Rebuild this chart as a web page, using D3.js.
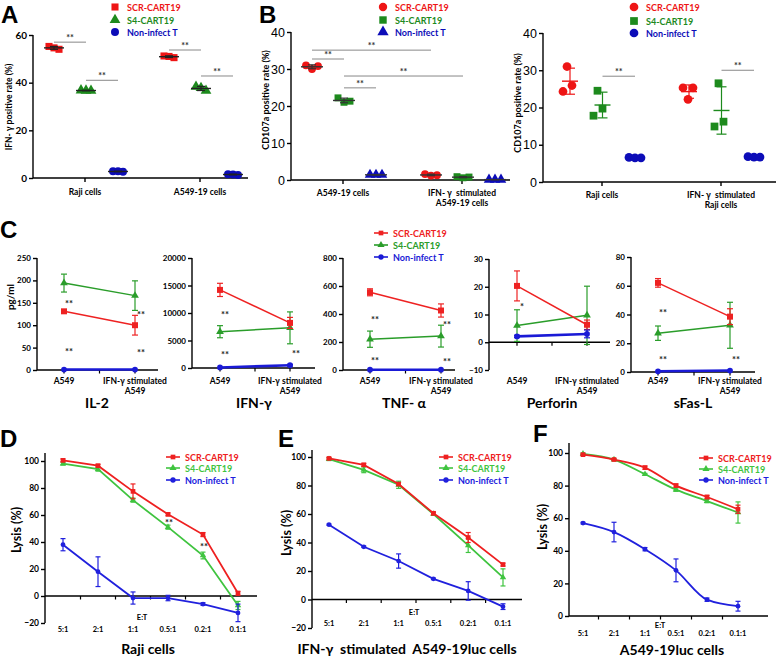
<!DOCTYPE html>
<html><head><meta charset="utf-8">
<script src="https://cdn.jsdelivr.net/npm/d3@7"></script>
<style>body{margin:0;background:#fff}svg{display:block}</style>
</head><body><svg id="c" width="778" height="657"></svg>
<script>
// ---------------- DATA ----------------
const series = ["SCR-CART19", "S4-CART19", "Non-infect T"];

// Panel A : IFN-γ positive rate (%), three replicates per group
const aCats = ["Raji cells", "A549-19 cells"];
const aTicks = [0, 20, 40, 60];
const aSCR = [[55.2, 54.0, 54.6], [51.2, 50.5, 51.0]];
const aS4  = [[36.8, 36.6, 36.7], [38.3, 36.6, 37.8]];
const aNon = [[2.8, 2.6, 2.8], [1.6, 1.3, 1.5]];
// [catFrom, seriesFrom, catTo, seriesTo, level, label]
const aSig = [[0,0,0,1,57,"**"],[0,1,0,2,41,"**"],[1,0,1,1,53.7,"**"],[1,1,1,2,42.8,"**"]];

// Panel B left : CD107a positive rate (%)
const bLCats = ["A549-19 cells", "IFN- γ  stimulated|A549-19 cells"];
const bTicks = [0, 10, 20, 30, 40];
const bLSCR = [[31.0, 30.0, 30.8], [1.6, 1.2, 1.3]];
const bLS4  = [[22.2, 21.0, 21.3], [0.9, 0.6, 0.8]];
const bLNon = [[1.4, 1.4, 1.4], [0.1, 0.1, 0.1]];
const bLSig = [[0,0,0,1,32.7,"**"],[0,0,1,0,35.1,"**"],[0,1,0,2,24.9,"**"],[0,1,1,1,28.1,"**"]];

// Panel B right
const bRCats = ["Raji cells", "IFN- γ  stimulated|Raji cells"];
const bRSCR = [[31.0, 25.9, 24.3], [25.3, 25.3, 22.2]];
const bRS4  = [[24.5, 19.7, 17.8], [26.5, 14.9, 16.2]];
const bRNon = [[6.6, 6.5, 6.5], [6.8, 6.7, 6.7]];
const bRSig = [[0,1,0,2,28.4,"**"],[1,1,1,2,30,"**"]];

// Panel C : cytokines (pg/ml), mean and error
const cCats = ["A549", "IFN-γ stimulated|A549"];
const cTitles = ["IL-2", "IFN-γ", "TNF- α", "Perforin", "sFas-L"];
const il2Ticks = [0, 50, 100, 150, 200, 250];
const il2Mean = [[131, 100], [194, 166], [1, 1]];
const il2Err  = [[3, 22], [20, 33], [0, 0]];
const il2Sig  = [[0, 152, "**"], [0, 45, "**"], [1, 127, "**"], [1, 42, "**"]];
const ifnTicks = [0, 5000, 10000, 15000, 20000];
const ifnMean = [[14200, 8200], [6600, 7300], [100, 500]];
const ifnErr  = [[1200, 1000], [1100, 2900], [0, 150]];
const ifnSig  = [[0, 10000, "**"], [0, 2700, "**"], [1, 2900, "**"]];
const tnfTicks = [0, 200, 400, 600, 800];
const tnfMean = [[555, 425], [220, 242], [2, 2]];
const tnfErr  = [[25, 47], [58, 78], [0, 0]];
const tnfSig  = [[0, 371, "**"], [0, 79, "**"], [1, 336, "**"], [1, 71, "**"]];
const perTicks = [-10, 0, 10, 20, 30];
const perMean = [[20.3, 6.3], [6, 9.7], [2.1, 3]];
const perErr  = [[5.4, 1.7], [5.7, 10.5], [0.4, 1.4]];
const perSig  = [[0, 13.3, "*"]];
const fasTicks = [0, 20, 40, 60, 80];
const fasMean = [[62, 38.5], [27, 32.5], [0.5, 1]];
const fasErr  = [[3, 5.5], [5, 16], [0, 0]];
const fasSig  = [[0, 42.4, "**"], [0, 9.7, "**"], [1, 9.7, "**"]];

// Panels D-F : lysis (%)
const etCats = ["5:1", "2:1", "1:1", "0.5:1", "0.2:1", "0.1:1"];
const lysisTicks = [-20, 0, 20, 40, 60, 80, 100];
const lysisTicksF = [0, 20, 40, 60, 80, 100];
const dSCR = [100.5, 96.5, 77.5, 60.5, 45.5, 2],   dSCRErr = [1, 1, 5.5, 1, 1.5, 1.5];
const dS4  = [98, 94, 71, 51, 30, -7],            dS4Err  = [1, 1.5, 1.5, 1.5, 2.5, 3];
const dNon = [38, 18, -1.5, -1.5, -6, -12.5],      dNonErr = [4.5, 11, 4.5, 2, 1, 6.5];
const dSig = [[3, 55.5, "**"], [4, 37.8, "**"]];
const eSCR = [99, 94.5, 81, 60.5, 43.5, 24.5],     eSCRErr = [0.5, 1, 1, 1, 3.5, 1];
const eS4  = [98.5, 91, 80.5, 60, 38, 15.5],       eS4Err  = [1, 2, 2.5, 1, 5, 6];
const eNon = [52.5, 37, 27, 14.5, 6, -5],          eNonErr = [0.5, 0.5, 5, 0.5, 6.5, 2];
const fSCR = [99, 96, 91, 80, 73, 65.5],           fSCRErr = [0.5, 0.5, 1, 1, 1, 2.5];
const fS4  = [99.5, 96, 87, 77.5, 70.5, 63.5],     fS4Err  = [0.5, 0.5, 0.5, 1, 1, 6.5];
const fNon = [57, 51.5, 41, 28, 10, 6],            fNonErr = [0.5, 6, 1, 7, 1, 3];

// ---------------- DRAWING ----------------
const svg = d3.select("#c");
const FONT = "Lato, 'Open Sans', sans-serif";
const symMap = {square: d3.symbolSquare, triangle: d3.symbolTriangle, circle: d3.symbolCircle};

function txt(g, x, y, s, o = {}) {
  return g.append("text").attr("x", x).attr("y", y).text(s)
    .attr("font-size", o.fs || 10).attr("font-weight", o.fw || "bold")
    .attr("fill", o.c || "#000").attr("text-anchor", o.a || "middle")
    .attr("font-family", o.ff || FONT).style("white-space", "pre");
}
function marker(g, type, x, y, size, color) {
  g.append("path").attr("d", d3.symbol(symMap[type], size)())
    .attr("transform", `translate(${x},${y})`).attr("fill", color);
}
function yAxis(g, y, ticks, x, o) {
  const ax = g.append("g").attr("transform", `translate(${x},0)`)
    .call(d3.axisLeft(y).tickValues(ticks).tickFormat(d3.format("d")).tickSize(o.ts || 4).tickSizeOuter(0).tickPadding(o.tp || 2));
  ax.select(".domain").remove();
  ax.append("line").attr("y1", o.top !== undefined ? o.top : y(ticks[ticks.length - 1]))
    .attr("y2", y(ticks[0])).attr("stroke", "#000").attr("stroke-width", o.sw || 1.4);
  ax.selectAll(".tick line").attr("stroke", "#000").attr("stroke-width", o.sw || 1.4);
  ax.selectAll(".tick text").attr("font-size", o.fs).attr("font-weight", o.fw || "bold")
    .attr("font-family", o.ff || FONT).attr("fill", "#000");
  return ax;
}
function rotLabel(g, x, y, s, o) {
  g.append("text").attr("transform", `translate(${x},${y}) rotate(-90)`).text(s)
    .attr("text-anchor", "middle").attr("font-size", o.fs).attr("font-weight", o.fw || "bold")
    .attr("font-family", o.ff || FONT).attr("fill", "#000");
}
function multiLabel(g, x, y, s, fs, gap) {
  s.split("|").forEach((line, k) => txt(g, x, y + k * gap, line, {fs: fs}));
}

// ---- scatter (dot) panels: A, B ----
function scatterPanel(c) {
  const g = svg.append("g");
  const x = d3.scalePoint().domain(d3.range(c.cats.length)).range(c.xr);
  const off = d3.scalePoint().domain(d3.range(3)).range(c.off);
  const y = d3.scaleLinear().domain([c.ticks[0], c.ticks[c.ticks.length - 1]]).range(c.yr);
  yAxis(g, y, c.ticks, c.axisX[0], {fs: c.tfs, fw: c.tfw, ff: c.tff, sw: 1.4});
  g.append("line").attr("x1", c.axisX[0]).attr("x2", c.axisX[1]).attr("y1", y(0)).attr("y2", y(0))
    .attr("stroke", "#000").attr("stroke-width", 1.4);
  c.cats.forEach((cat, i) => {
    g.append("line").attr("x1", x(i)).attr("x2", x(i)).attr("y1", y(0)).attr("y2", y(0) + 4)
      .attr("stroke", "#000").attr("stroke-width", 1.4);
    multiLabel(g, x(i), c.labY, cat, 8.5, 10);
  });
  rotLabel(g, c.ylab[0], c.ylab[1], c.ylab[2], {fs: c.ylab[3], fw: "bold"});
  c.data.forEach((ser, s) => ser.forEach((reps, i) => {
    const cx = x(i) + off(s);
    const m = d3.mean(reps), sd = d3.deviation(reps);
    const lc = c.lineColor || c.colors[s];
    const drawLines = () => {
      g.append("line").attr("x1", cx).attr("x2", cx).attr("y1", y(m - sd)).attr("y2", y(m + sd))
        .attr("stroke", lc).attr("stroke-width", 1.2);
      [m - sd, m + sd].forEach(v => g.append("line").attr("x1", cx - c.cap).attr("x2", cx + c.cap)
        .attr("y1", y(v)).attr("y2", y(v)).attr("stroke", lc).attr("stroke-width", 1.2));
      g.append("line").attr("x1", cx - c.meanW).attr("x2", cx + c.meanW).attr("y1", y(m)).attr("y2", y(m))
        .attr("stroke", lc).attr("stroke-width", 1.4);
    };
    if (!c.linesOnTop) drawLines();
    reps.forEach((v, r) => marker(g, c.shapes[s], cx + c.jit(s, i, r), y(v), c.msize, c.colors[s]));
    if (c.linesOnTop) drawLines();
  }));
  c.sig.forEach(([c1, s1, c2, s2, lv, lab]) => {
    const x1 = x(c1) + off(s1), x2 = x(c2) + off(s2);
    g.append("line").attr("x1", x1).attr("x2", x2).attr("y1", y(lv)).attr("y2", y(lv))
      .attr("stroke", "#888").attr("stroke-width", 1);
    txt(g, (x1 + x2) / 2, y(lv) - 1, lab, {fs: 9, c: "#333"});
  });
  c.legend.forEach((p, s) => {
    marker(g, c.shapes[s], p[0], p[1], c.lsize, c.colors[s]);
    txt(g, p[0] + 12, p[1] + 3.5, series[s], {fs: 9, c: c.colors[s], a: "start"});
  });
}

const RED = "#ee1515", GDK = "#1d8a1d", BDK = "#0c0cb8";

scatterPanel({
  cats: aCats, ticks: aTicks, xr: [85, 200], off: [-31, 33], yr: [178, 35], axisX: [33, 248],
  tfs: 10, tfw: "bold", labY: 195, ylab: [12, 107, "IFN- γ  positive rate (%)", 8.5],
  data: [aSCR, aS4, aNon], colors: [RED, GDK, BDK], shapes: ["square", "triangle", "circle"],
  msize: 50, lsize: 50, cap: 4, meanW: 10, lineColor: "#222", linesOnTop: true,
  jit: (s, i, r) => [-5, 5, 0][r], sig: aSig,
  legend: [[115, 7], [115, 20], [115, 32]]
});
scatterPanel({
  cats: bLCats, ticks: bTicks, xr: [343, 462], off: [-31, 33], yr: [180, 32], axisX: [291, 510],
  tfs: 12.5, tfw: "normal", tff: "'Liberation Sans', Arial, sans-serif", labY: 196,
  ylab: [269, 100, "CD107a positive rate (%)", 9],
  data: [bLSCR, bLS4, bLNon], colors: [RED, GDK, BDK], shapes: ["circle", "square", "triangle"],
  msize: 48, lsize: 55, cap: 4, meanW: 11, lineColor: "#333", linesOnTop: true,
  jit: (s, i, r) => [-6, 0, 6][r], sig: bLSig,
  legend: [[383, 7], [383, 20], [383, 32]]
});
const bRJit = [[[-3, 2, -7], [-5, 0, -9], [-6, 0, 6]], [[-6, 4, -1], [-3, -7, 2], [-6, 0, 6]]];
scatterPanel({
  cats: bRCats, ticks: bTicks, xr: [602, 721], off: [-32, 33], yr: [182, 33], axisX: [543, 776],
  tfs: 12.5, tfw: "normal", tff: "'Liberation Sans', Arial, sans-serif", labY: 198,
  ylab: [521, 103, "CD107a positive rate (%)", 9],
  data: [bRSCR, bRS4, bRNon], colors: [RED, GDK, BDK], shapes: ["circle", "square", "circle"],
  msize: 60, lsize: 60, cap: 5, meanW: 8, linesOnTop: false,
  jit: (s, i, r) => bRJit[i][s][r], sig: bRSig,
  legend: [[634, 7], [634, 21], [634, 33]]
});

// ---- line panels ----
function linePanel(c) {
  const g = svg.append("g");
  const x = d3.scalePoint().domain(d3.range(c.cats.length)).range(c.xr);
  const y = d3.scaleLinear().domain([c.ticks[0], c.ticks[c.ticks.length - 1]]).range(c.yr);
  yAxis(g, y, c.ticks, c.axisX[0], {fs: c.tfs, top: c.yTop, sw: 1.4});
  const y0 = y(0);
  g.append("line").attr("x1", c.axisX[0]).attr("x2", c.axisX[1]).attr("y1", y0).attr("y2", y0)
    .attr("stroke", "#000").attr("stroke-width", 1.4);
  c.xticks(x).forEach(t => g.append("line").attr("x1", t).attr("x2", t).attr("y1", y0).attr("y2", y0 + 3.5)
    .attr("stroke", "#000").attr("stroke-width", 1.2));
  c.cats.forEach((cat, i) => multiLabel(g, x(i), c.labY, cat, c.lfs, 10));
  const order = [1, 0, 2];
  order.forEach(s => {
    const vals = c.mean[s], errs = c.err[s], col = c.colors[s];
    vals.forEach((v, i) => {
      const e = errs[i];
      if (e > 0) {
        g.append("line").attr("x1", x(i)).attr("x2", x(i)).attr("y1", y(v - e)).attr("y2", y(v + e))
          .attr("stroke", col).attr("stroke-width", 1.2);
        [v - e, v + e].forEach(w => g.append("line").attr("x1", x(i) - c.cap).attr("x2", x(i) + c.cap)
          .attr("y1", y(w)).attr("y2", y(w)).attr("stroke", col).attr("stroke-width", 1.2));
      }
    });
    g.append("path").datum(vals)
      .attr("d", d3.line().x((d, i) => x(i)).y(d => y(d)).curve(c.curve || d3.curveLinear))
      .attr("fill", "none").attr("stroke", col).attr("stroke-width", c.lw[s]);
    vals.forEach((v, i) => marker(g, c.shapes[s], x(i), y(v), c.msize[s], col));
  });
  c.sig.forEach(([i, lv, lab]) => txt(g, x(i) + (i === 0 ? 5 : 6) + (c.sigDx || 0), y(lv) + 5, lab, {fs: 9.5, c: "#222"}));
  if (c.title) txt(g, c.title[0], c.title[1], c.title[2], {fs: c.title[3]});
  if (c.ylab) rotLabel(g, c.ylab[0], c.ylab[1], c.ylab[2], {fs: c.ylab[3]});
  if (c.legend) c.legend.forEach((p, s) => {
    g.append("line").attr("x1", p[0] - 7).attr("x2", p[0] + 7).attr("y1", p[1]).attr("y2", p[1])
      .attr("stroke", c.colors[s]).attr("stroke-width", 1.6);
    marker(g, c.shapes[s], p[0], p[1], 22, c.colors[s]);
    txt(g, p[0] + 12, p[1] + 3.5, series[s], {fs: 9, c: c.colors[s], a: "start"});
  });
  if (c.et) txt(g, c.et[0], c.et[1], "E:T", {fs: 7.5});
  return {x, y};
}

const RC = "#ee2222", GC = "#2a9d2a", BC = "#1a1ad6";
const cStyle = {colors: [RC, GC, BC], shapes: ["square", "triangle", "circle"], msize: [36, 26, 26],
  lw: [1.5, 1.5, 2.6], cap: 3, tfs: 8, lfs: 8.5, labY: 384};
const midTicks = x => [x(0), (x(0) + x(1)) / 2, x(1)];
linePanel(Object.assign({}, cStyle, {cats: cCats, ticks: il2Ticks, mean: il2Mean, err: il2Err, sig: il2Sig,
  xr: [64, 135], yr: [370, 258], axisX: [37, 158], xticks: midTicks, title: [97, 408, cTitles[0], 14],
  ylab: [14, 297, "pg/ml", 10]}));
linePanel(Object.assign({}, cStyle, {cats: cCats, ticks: ifnTicks, mean: ifnMean, err: ifnErr, sig: ifnSig,
  xr: [220, 290], yr: [368, 258], axisX: [192, 315], xticks: midTicks, title: [254, 408, cTitles[1], 14]}));
linePanel(Object.assign({}, cStyle, {cats: cCats, ticks: tnfTicks, mean: tnfMean, err: tnfErr, sig: tnfSig,
  xr: [370, 441], yr: [370, 258], axisX: [343, 455], xticks: midTicks, title: [404, 408, cTitles[2], 14],
  legend: [[381, 233], [381, 245], [381, 257]]}));
linePanel(Object.assign({}, cStyle, {cats: cCats, ticks: perTicks, mean: perMean, err: perErr, sig: perSig,
  xr: [517, 587], yr: [370, 259], axisX: [489, 610], xticks: midTicks, title: [552, 408, cTitles[3], 14]}));
linePanel(Object.assign({}, cStyle, {cats: cCats, ticks: fasTicks, mean: fasMean, err: fasErr, sig: fasSig,
  xr: [658, 730], yr: [372, 257], axisX: [631, 755], xticks: midTicks, title: [693, 408, cTitles[4], 14]}));

const RL = "#ee2020", GL = "#3fc43f", BL = "#2020dd";
const lStyle = {colors: [RL, GL, BL], shapes: ["square", "triangle", "circle"], msize: [22, 18, 18],
  lw: [1.8, 1.8, 1.8], cap: 2.5, tfs: 8.5, lfs: 7.5, sigDx: -5};
const bTicksET = x => d3.range(etCats.length - 1).map(i => (x(i) + x(i + 1)) / 2);
linePanel(Object.assign({}, lStyle, {cats: etCats, ticks: lysisTicks, mean: [dSCR, dS4, dNon], err: [dSCRErr, dS4Err, dNonErr],
  sig: dSig, xr: [63, 238], yr: [623, 461], yTop: 453, axisX: [45, 257], xticks: bTicksET, labY: 632,
  title: [148, 654, "Raji cells", 14], ylab: [21, 530, "Lysis (%)", 12.5],
  legend: [[173, 457], [173, 468], [173, 480]], et: [142, 620]}));
linePanel(Object.assign({}, lStyle, {cats: etCats, ticks: lysisTicks, mean: [eSCR, eS4, eNon], err: [eSCRErr, eS4Err, eNonErr],
  sig: [], xr: [329, 503], yr: [628, 457], yTop: 450, axisX: [312, 522], xticks: bTicksET, labY: 626,
  title: [407, 654, "IFN-γ  stimulated  A549-19luc cells", 14], ylab: [291, 533, "Lysis (%)", 12.5],
  legend: [[446, 457], [446, 468], [446, 480]], et: [414, 615]}));
linePanel(Object.assign({}, lStyle, {cats: etCats, ticks: lysisTicksF, mean: [fSCR, fS4, fNon], err: [fSCRErr, fS4Err, fNonErr],
  sig: [], xr: [583, 738], yr: [616, 453], yTop: 443, axisX: [569, 768], xticks: bTicksET, labY: 636,
  curve: d3.curveMonotoneX,
  title: [672, 655, "A549-19luc cells", 14], ylab: [547, 527, "Lysis (%)", 12.5],
  legend: [[706, 458], [706, 469], [706, 480]], et: [660, 628]}));

// panel letters
[["A", 1, 23], ["B", 259, 23], ["C", 0, 238], ["D", 0, 447], ["E", 278, 447], ["F", 533, 442]]
  .forEach(([l, x, y]) => txt(svg, x, y, l, {fs: 24, a: "start", ff: "'Liberation Sans', Arial, sans-serif"}));
</script></body></html>
